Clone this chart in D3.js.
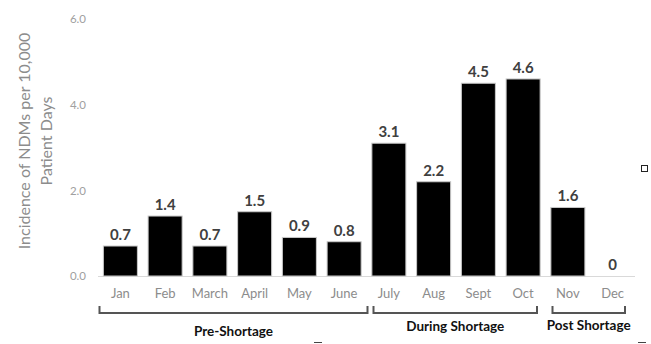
<!DOCTYPE html>
<html>
<head>
<meta charset="utf-8">
<script src="https://cdn.jsdelivr.net/npm/d3@7"></script>
<style>
  html, body { margin: 0; padding: 0; background: #fff; }
  svg { display: block; }
  text { font-family: Lato, "Open Sans", sans-serif; }
</style>
</head>
<body>
<svg id="chart" width="651" height="344"></svg>
<script>
// Monthly incidence of NDMs per 10,000 patient days
const months = ["Jan", "Feb", "March", "April", "May", "June", "July", "Aug", "Sept", "Oct", "Nov", "Dec"];
const incidence = [0.7, 1.4, 0.7, 1.5, 0.9, 0.8, 3.1, 2.2, 4.5, 4.6, 1.6, 0];
const yTicks = [0, 2, 4, 6];

// Shortage periods, by first and last month
const periodNames = ["Pre-Shortage", "During Shortage", "Post Shortage"];
const periodStart = ["Jan", "July", "Nov"];
const periodEnd = ["June", "Oct", "Dec"];

const svg = d3.select("#chart");
const plot = { left: 98, right: 635, top: 19, bottom: 276 };

const x = d3.scaleBand().domain(months).range([plot.left, plot.right]).paddingInner(0.24).paddingOuter(0.12);
const y = d3.scaleLinear().domain([0, 6]).range([plot.bottom, plot.top]);

// Y axis labels only (no axis line)
const yAxis = d3.axisLeft(y).tickValues(yTicks).tickFormat(d3.format(".1f")).tickSize(0).tickPadding(0);
const yg = svg.append("g").attr("transform", `translate(${plot.left - 12},0)`).call(yAxis);
yg.select(".domain").remove();
yg.selectAll("text").attr("fill", "#a0a0a0").style("font-size", "11.5px").style("font-family", "Lato, sans-serif");

// Baseline
svg.append("line")
  .attr("x1", plot.left).attr("x2", plot.right)
  .attr("y1", y(0) + 0.5).attr("y2", y(0) + 0.5)
  .attr("stroke", "#d9d9d9").attr("stroke-width", 1);

// Bars
svg.append("g").selectAll("rect").data(months).join("rect")
  .attr("x", d => x(d))
  .attr("y", (d, i) => y(incidence[i]))
  .attr("width", x.bandwidth())
  .attr("height", (d, i) => y(0) - y(incidence[i]))
  .attr("fill", "#000")
  .attr("stroke", "#c8c8c8")
  .attr("stroke-width", (d, i) => incidence[i] > 0 ? 1 : 0);

// Value labels
svg.append("g").selectAll("text").data(months).join("text")
  .attr("x", d => x(d) + x.bandwidth() / 2)
  .attr("y", (d, i) => y(incidence[i]) - 6)
  .attr("text-anchor", "middle")
  .attr("fill", "#404040")
  .style("font-size", "15px")
  .style("font-weight", "bold")
  .text((d, i) => incidence[i] === 0 ? "0" : d3.format(".1f")(incidence[i]));

// Month labels
const xAxis = d3.axisBottom(x).tickSize(0).tickPadding(0);
const xg = svg.append("g").attr("transform", `translate(0,${plot.bottom + 22})`).call(xAxis);
xg.select(".domain").remove();
xg.selectAll("text").attr("fill", "#8c8c8c").style("font-size", "13px").style("font-family", "Lato, sans-serif").attr("dy", null);

// Period brackets and names
const step = x.step();
const bracketY = 313;
const insetLeft = [1.5, 7, 7];
const insetRight = [-1, 8.5, 10];
const labelBaseline = [336, 331, 330];
const brackets = svg.append("g");
periodNames.forEach((name, i) => {
  const x0 = x(periodStart[i]) + x.bandwidth() / 2 - step / 2 + insetLeft[i];
  const x1 = x(periodEnd[i]) + x.bandwidth() / 2 + step / 2 - insetRight[i];
  brackets.append("path")
    .attr("d", `M${x0},${bracketY - 7}V${bracketY}H${x1}V${bracketY - 7}`)
    .attr("fill", "none")
    .attr("stroke", "#555")
    .attr("stroke-width", 2);
  brackets.append("text")
    .attr("x", (x0 + x1) / 2)
    .attr("y", labelBaseline[i])
    .attr("text-anchor", "middle")
    .attr("fill", "#111")
    .style("font-size", "13.5px")
    .style("font-weight", "bold")
    .text(name);
});

// Y axis title
const title = svg.append("text")
  .attr("transform", `translate(36,141) rotate(-90)`)
  .attr("text-anchor", "middle")
  .attr("fill", "#8c8c8c")
  .style("font-size", "16px");
title.append("tspan").attr("x", 0).attr("dy", "-0.35em").text("Incidence of NDMs per 10,000");
title.append("tspan").attr("x", 0).attr("dy", "1.35em").text("Patient Days");

// Selection handles
svg.append("rect").attr("x", 641.5).attr("y", 165.5).attr("width", 6).attr("height", 6)
  .attr("fill", "#fff").attr("stroke", "#222").attr("stroke-width", 1);
svg.append("line").attr("x1", 314).attr("x2", 322).attr("y1", 342.5).attr("y2", 342.5).attr("stroke", "#444");
svg.append("line").attr("x1", 638).attr("x2", 646).attr("y1", 342.5).attr("y2", 342.5).attr("stroke", "#444");
</script>
</body>
</html>
